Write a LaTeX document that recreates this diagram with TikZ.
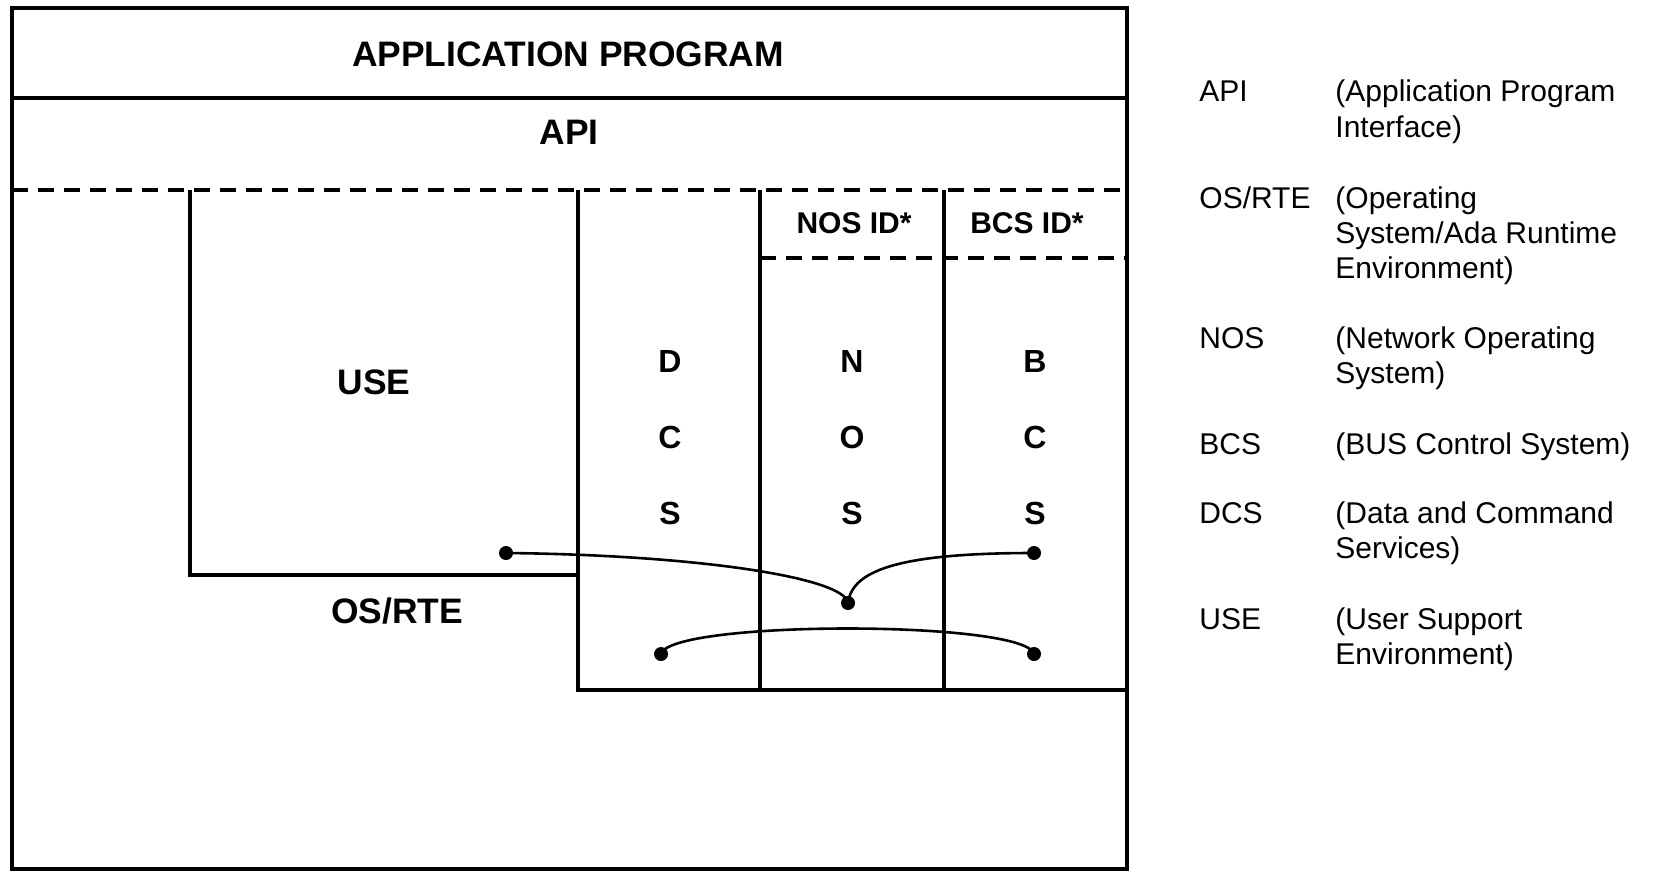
\documentclass[tikz,border=0pt]{standalone}
\usepackage{fontspec}
\setmainfont{Liberation Sans}
% legend text whose baseline is its first line
\newcommand{\lgtext}[1]{\begin{tabular}[t]{@{}l@{}}#1\end{tabular}}
\begin{document}
\begin{tikzpicture}[x=0.5pt, y=-0.5pt,
    frame/.style={line width=1.6pt},
    sep/.style={dashed, dash pattern=on 8pt off 5pt, line width=1.6pt},
    layer/.style={font=\fontsize{17.7}{21}\selectfont\bfseries},
    idlabel/.style={font=\fontsize{15}{18}\selectfont\bfseries},
    letters/.style={align=center, font=\fontsize{16}{38}\selectfont\bfseries},
    abbr/.style={anchor=base west, inner sep=0pt, font=\fontsize{15}{17.5}\selectfont},
    expl/.style={anchor=base west, inner sep=0pt, font=\fontsize{15}{17.5}\selectfont},
    dot/.style={circle, fill, inner sep=0pt, minimum size=7pt},
    link/.style={line width=1.3pt}]

    \useasboundingbox (0,0) rectangle (1653,872);

    % Outer frame with the application program layer
    \draw[frame] (12,8) rectangle (1127,869);
    \draw[frame] (12,98) -- (1127,98);

    % API boundary
    \draw[sep] (12,190) -- (1127,190);

    % USE box
    \draw[frame] (190,190) -- (190,575) -- (578,575);

    % Service columns - DCS, NOS, BCS
    \draw[frame] (578,190) -- (578,690) -- (1127,690);
    \draw[frame] (760,190) -- (760,690);
    \draw[frame] (944,190) -- (944,690);
    \draw[sep] (760,258) -- (1127,258);

    % Layer labels
    \node[layer] (appProg) at (568,54) {APPLICATION PROGRAM};
    \node[layer] (api) at (569,132) {API};
    \node[layer] (use) at (374,382) {USE};
    \node[layer] (osRte) at (397,611) {OS/RTE};

    % Identifier labels
    \node[idlabel] (nosId) at (854,223) {NOS ID*};
    \node[idlabel] (bcsId) at (1027,223) {BCS ID*};

    % Column letters
    \node[letters] (dcs) at (670,438) {D\\C\\S};
    \node[letters] (nos) at (852,438) {N\\O\\S};
    \node[letters] (bcs) at (1035,438) {B\\C\\S};

    % Connection end points
    \node[dot] (useEnd) at (506,553) {};
    \node[dot] (nosJoin) at (848,603) {};
    \node[dot] (bcsEnd) at (1034,553) {};
    \node[dot] (dcsLow) at (661,654) {};
    \node[dot] (bcsLow) at (1034,654) {};

    % Connections
    \draw[link] (useEnd.center) .. controls (700,555) and (845,578) .. (nosJoin.center)
        .. controls (852,570) and (900,553) .. (bcsEnd.center);
    \draw[link] (dcsLow.center) .. controls (670,620) and (1025,620) .. (bcsLow.center);

    % Legend
    \node[abbr] (lgApi) at (1199,102) {API};
    \node[expl] (lgApiText) at (1335,102) {\lgtext{(Application Program\\Interface)}};
    \node[abbr] (lgOs) at (1199,208) {OS/RTE};
    \node[expl] (lgOsText) at (1335,208) {\lgtext{(Operating\\System/Ada Runtime\\Environment)}};
    \node[abbr] (lgNos) at (1199,348) {NOS};
    \node[expl] (lgNosText) at (1335,348) {\lgtext{(Network Operating\\System)}};
    \node[abbr] (lgBcs) at (1199,454) {BCS};
    \node[expl] (lgBcsText) at (1335,454) {\lgtext{(BUS Control System)}};
    \node[abbr] (lgDcs) at (1199,523) {DCS};
    \node[expl] (lgDcsText) at (1335,523) {\lgtext{(Data and Command\\Services)}};
    \node[abbr] (lgUse) at (1199,629) {USE};
    \node[expl] (lgUseText) at (1335,629) {\lgtext{(User Support\\Environment)}};
\end{tikzpicture}
\end{document}
